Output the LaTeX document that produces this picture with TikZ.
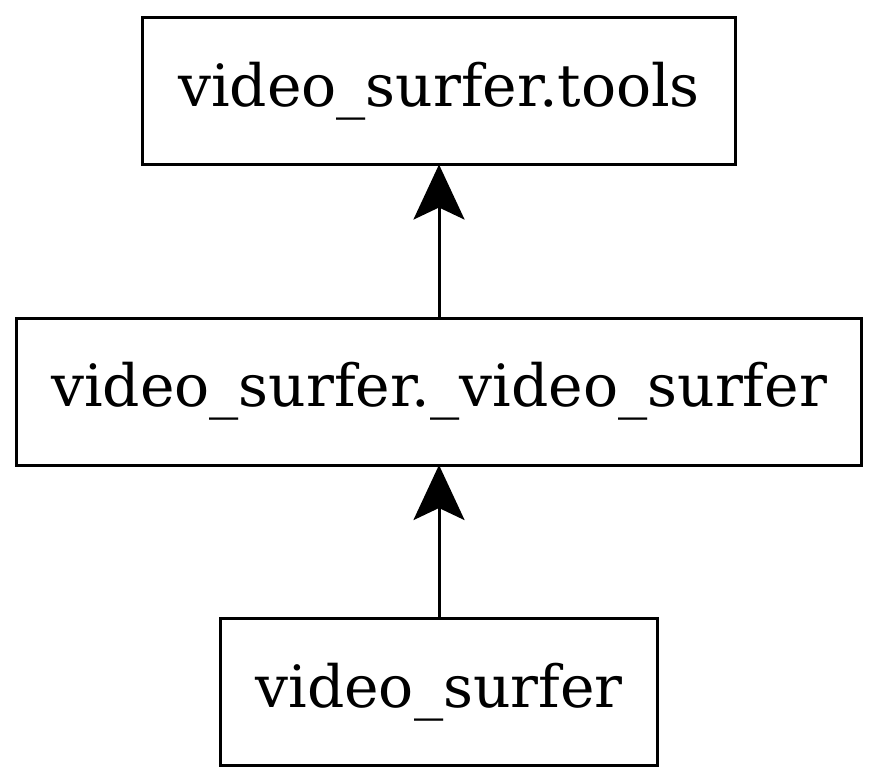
\documentclass[tikz,border=0pt]{standalone}
\usepackage{fontspec}
\setmainfont{DejaVu Serif}
\usepackage{tikz}
\usetikzlibrary{arrows.meta,positioning}

\begin{document}
\begin{tikzpicture}[
    node distance=3.07cm,
    box/.style={rectangle, draw, line width=0.06cm, minimum height=2.94cm, inner sep=0pt, outer sep=0pt, text centered, font=\fontsize{33.2pt}{40pt}\selectfont},
    edge/.style={-{Stealth[length=1.1cm, width=1.02cm, inset=0.24cm]}, line width=0.06cm}
]
    \useasboundingbox (0,0) rectangle (17.58,-15.66);
    \node[box, minimum width=11.86cm] (tools) at (8.78,-1.82) {video\_surfer.tools};
    \node[box, minimum width=16.88cm, below=of tools] (inner) {video\_surfer.\_video\_surfer};
    \node[box, minimum width=8.74cm, below=of inner] (pkg) {video\_surfer};

    \draw[edge] (inner) -- (tools);
    \draw[edge] (pkg) -- (inner);
\end{tikzpicture}
\end{document}
